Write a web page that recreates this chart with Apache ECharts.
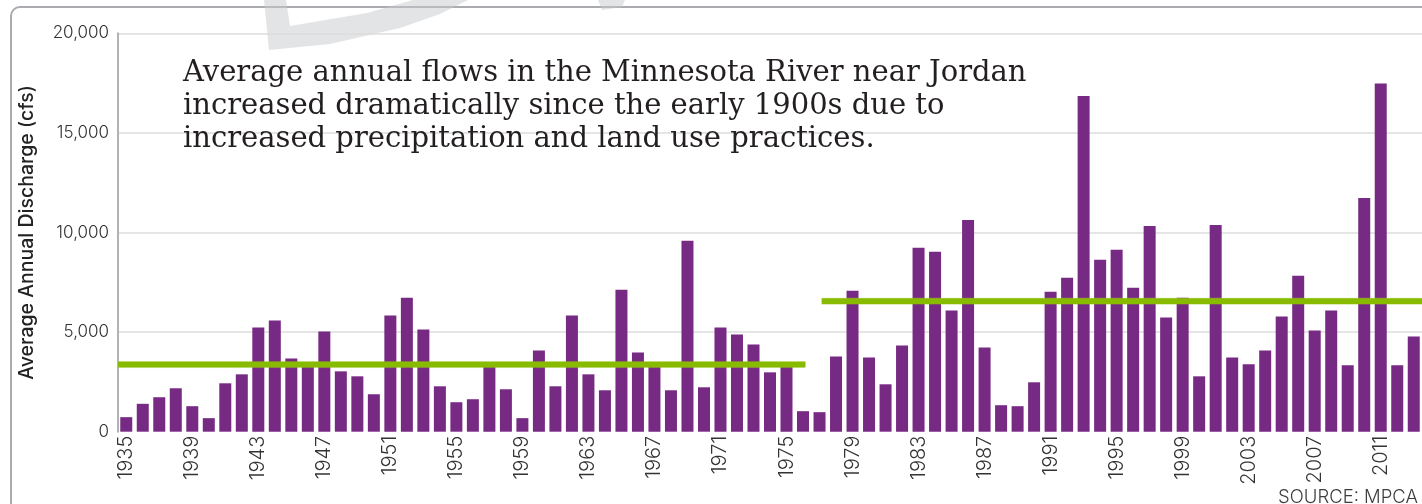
<!DOCTYPE html>
<html>
<head>
<meta charset="utf-8">
<script src="https://cdn.jsdelivr.net/npm/echarts@6/dist/echarts.min.js"></script>
<style>
html,body{margin:0;padding:0;background:#fff;}
#chart{width:1422px;height:504px;}
</style>
</head>
<body>
<div id="chart"></div>
<script>
const years = [];
for (let y = 1935; y <= 2013; y++) years.push(String(y));

const discharge = [
  730, 1400, 1730, 2180, 1280, 680, 2430, 2880, 5230, 5580,
  3680, 3350, 5030, 3030, 2780, 1880, 5830, 6730, 5130, 2280,
  1480, 1630, 3300, 2130, 680, 4080, 2280, 5830, 2880, 2080,
  7130, 3980, 3300, 2080, 9580, 2230, 5230, 4880, 4380, 2980,
  3300, 1030, 980, 3780, 7080, 3730, 2380, 4330, 9230, 9030,
  6080, 10630, 4230, 1330, 1280, 2480, 7030, 7730, 16850, 8630,
  9130, 7230, 10330, 5730, 6730, 2780, 10380, 3730, 3380, 4080,
  5780, 7830, 5080, 6080, 3330, 11730, 17480, 3330, 4780
];

const meanStart = [1934.5, 1977.13];
const meanEnd = [1976.15, 2013.5];
const meanValues = [3370, 6550];

const yTicks = [0, 5000, 10000, 15000, 20000];

const titleLines = [
  'Average annual flows in the Minnesota River near Jordan',
  'increased dramatically since the early 1900s due to',
  'increased precipitation and land use practices.'
];

const chart = echarts.init(document.getElementById('chart'), null, {renderer: 'canvas'});

const meanSeries = meanValues.map((v, i) => ({
  type: 'line',
  xAxisIndex: 1,
  yAxisIndex: 0,
  data: [[meanStart[i], v], [meanEnd[i], v]],
  symbol: 'none',
  silent: true,
  z: 5,
  lineStyle: {color: '#88bb00', width: 6, cap: 'butt', shadowColor: 'rgba(170,210,90,0.8)', shadowBlur: 1.5}
}));

chart.setOption({
  animation: false,
  backgroundColor: '#ffffff',
  title: {
    text: titleLines.join('\n'),
    left: 183,
    top: 57,
    padding: 0,
    z: 10,
    textStyle: {
      fontFamily: "'DejaVu Serif', serif",
      fontSize: 29,
      fontWeight: 'normal',
      lineHeight: 33,
      color: '#231f20'
    }
  },
  graphic: [
    {
      type: 'rect',
      shape: {x: 11, y: 7, width: 1460, height: 560, r: 9},
      style: {fill: 'none', stroke: '#a9abae', lineWidth: 2},
      z: 0, silent: true
    },
    {
      type: 'polygon',
      shape: {points: [[264,0],[269,50],[330,44],[400,28],[440,14],[468,0],[413,0],[367,13],[290,26],[286,0]]},
      style: {fill: 'rgba(200,202,205,0.5)'},
      z: 0, silent: true
    },
    {
      type: 'polygon',
      shape: {points: [[598,0],[625,0],[622,7],[602,10]]},
      style: {fill: 'rgba(200,202,205,0.5)'},
      z: 0, silent: true
    },
    {
      type: 'text',
      right: 4,
      top: 488,
      style: {
        text: 'SOURCE: MPCA',
        font: "300 18.5px Inter, Lato, sans-serif",
        fill: '#3d3d3d'
      },
      z: 10
    }
  ],
  grid: {left: 118, right: -5.4, top: 33.3, bottom: 72.3, containLabel: false},
  xAxis: [
    {
      type: 'category',
      data: years,
      boundaryGap: true,
      axisLine: {show: false},
      axisTick: {show: false},
      axisLabel: {
        interval: 3,
        rotate: 90,
        margin: 4,
        fontFamily: 'Inter, Lato, sans-serif',
        fontWeight: 300,
        fontSize: 20,
        color: '#333333'
      },
      splitLine: {show: false}
    },
    {
      type: 'value',
      min: 1934.5,
      max: 2013.5,
      show: false,
      splitLine: {show: false}
    }
  ],
  yAxis: {
    type: 'value',
    min: yTicks[0],
    max: yTicks[yTicks.length - 1],
    interval: 5000,
    name: 'Average Annual Discharge (cfs)',
    nameLocation: 'middle',
    nameRotate: 90,
    nameGap: 81,
    nameTextStyle: {
      fontFamily: 'Inter, Lato, sans-serif',
      fontWeight: 500,
      fontSize: 19.5,
      color: '#222222'
    },
    axisLine: {show: true, lineStyle: {color: '#b1b3b6', width: 2}},
    axisTick: {show: false},
    axisLabel: {
      margin: 9,
      fontFamily: 'Inter, Lato, sans-serif',
      fontWeight: 300,
      fontSize: 17,
      color: '#333333',
      formatter: v => v.toLocaleString('en-US')
    },
    splitLine: {
      show: true,
      lineStyle: {color: ['#ffffff', '#dcdcdc', '#dcdcdc', '#dcdcdc', '#dcdcdc'], width: 1.5}
    }
  },
  series: [
    {
      type: 'bar',
      data: discharge,
      barWidth: 12,
      itemStyle: {color: '#772a83'},
      silent: true,
      z: 2
    },
    ...meanSeries
  ]
});
</script>
</body>
</html>
